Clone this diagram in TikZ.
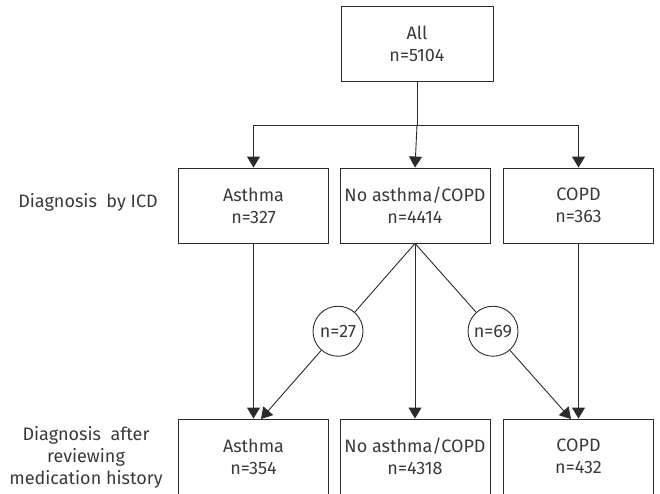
\documentclass[tikz,border=0pt]{standalone}
\usepackage{fontspec}
\setmainfont{Fira Sans}
\usetikzlibrary{arrows.meta,calc}
\definecolor{ink}{HTML}{2B2B2B}
\definecolor{txt}{HTML}{3A3A3A}
\tikzset{
  box/.style={draw=ink,line width=0.9pt,minimum width=150pt,minimum height=75pt,inner sep=0pt,align=center,text=txt,font=\fontsize{18}{22}\selectfont},
  cnt/.style={draw=ink,line width=0.9pt,circle,minimum size=50pt,inner sep=0pt,text=txt,font=\fontsize{18}{22}\selectfont},
  lbl/.style={align=center,text=txt,font=\fontsize{18}{22}\selectfont},
  conn/.style={draw=ink,line width=0.9pt},
  arr/.style={conn,-{Triangle[width=13pt,length=11pt]}}
}
\begin{document}
\begin{tikzpicture}[x=1pt,y=-1pt]
\useasboundingbox (0,0) rectangle (660,493);
\node[box,minimum width=152pt] (all) at (417,43.5) {All\\n=5104};
\node[box] (a1) at (253.5,205.5) {Asthma\\n=327};
\node[box] (n1) at (415,205.5) {No asthma/COPD\\n=4414};
\node[box] (c1) at (578.5,205.5) {COPD\\n=363};
\node[box] (a2) at (253.5,456.5) {Asthma\\n=354};
\node[box] (n2) at (415,456.5) {No asthma/COPD\\n=4318};
\node[box] (c2) at (578.5,456.5) {COPD\\n=432};
\node[lbl,anchor=center] (l1) at (88,202) {Diagnosis\ \ by ICD};
\node[lbl,anchor=center] (l2) at (86,457) {Diagnosis\ \ after\\reviewing\\medication history};
\coordinate (j) at (417,125);
\coordinate (t1) at (261,419);
\coordinate (t2) at (571,419);
\node[cnt] (k1) at ($(n1.south)!0.5!(t1)$) {n=27};
\node[cnt] (k2) at ($(n1.south)!0.5!(t2)$) {n=69};
\draw[conn] (all.south) -- (j);
\draw[arr] (j) -| (a1.north);
\draw[arr] (j) -| (c1.north);
\draw[arr] (j) -- (n1.north);
\draw[arr] (a1.south) -- (a2.north);
\draw[arr] (n1.south) -- (n2.north);
\draw[arr] (c1.south) -- (c2.north);
\draw[conn] (n1.south) -- (k1);
\draw[arr] (k1) -- (t1);
\draw[conn] (n1.south) -- (k2);
\draw[arr] (k2) -- (t2);
\end{tikzpicture}
\end{document}
